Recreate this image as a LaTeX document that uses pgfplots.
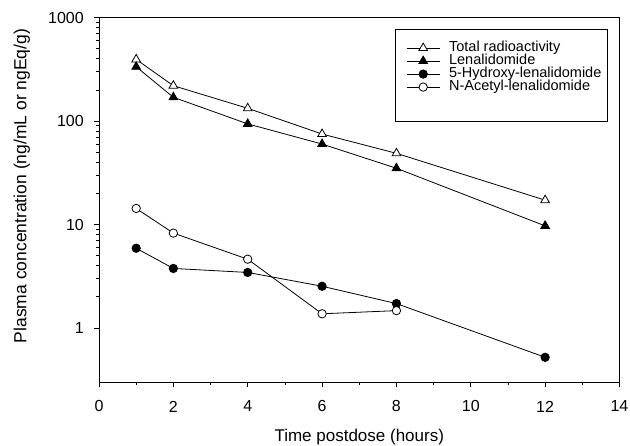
\documentclass[border=0pt]{standalone}
\usepackage{fontspec}
\setmainfont{Liberation Sans}
\usepackage{pgfplots}
\pgfplotsset{compat=1.18}

\begin{document}
\begin{tikzpicture}
    % fix the page to the reference's 630x446 frame (1px = 1pt)
    \useasboundingbox (-99pt,-64pt) rectangle (531pt,382pt);
    \begin{axis}[
        scale only axis,
        width=520.5pt, height=364.3pt,
        xmin=0, xmax=14,
        ymode=log, ymin=0.3, ymax=1000,
        xtick={0,2,...,14},
        minor x tick num=1,
        ytick={1,10,100,1000},
        log ticks with fixed point,
        /pgf/number format/1000 sep={},
        tick align=outside,
        xtick pos=bottom, ytick pos=left,
        major tick length=5pt, minor tick length=3pt,
        axis line style={line width=0.8pt},
        every tick/.style={black, line width=0.7pt},
        tick label style={font=\fontsize{16}{16}\selectfont},
        /pgf/number format/assume math mode=true,
        xticklabel style={anchor=center, yshift=-19.5pt},
        yticklabel style={anchor=east, inner sep=0pt, xshift=-10pt},
        xlabel={Time postdose (hours)},
        ylabel={Plasma concentration (ng/mL or ngEq/g)},
        every axis x label/.style={at={(axis description cs:0.5,0)}, yshift=-55.5pt, anchor=center,
            inner sep=0pt, font=\fontsize{17}{17}\selectfont},
        every axis y label/.style={at={(axis description cs:-0.148,0.538)}, rotate=90, anchor=center,
            inner sep=0pt, font=\fontsize{17.5}{17.5}\selectfont},
        every axis plot/.append style={black, line width=0.8pt},
        legend image code/.code={\draw[mark repeat=2,mark phase=2,#1] plot coordinates {(0pt,0pt) (16.5pt,0pt) (33pt,0pt)};},
        legend cell align=left,
        legend style={at={(axis description cs:0.590,0.935)}, anchor=north west,
            draw=none, fill=none, inner sep=0pt, row sep=0pt, column sep=9pt,
            font=\fontsize{14.5}{14.5}\selectfont,
            nodes={inner sep=0pt, text height=10pt, text depth=3pt}},
    ]
        \addplot[mark=triangle*, mark size=5pt, mark options={fill=white, solid}]
            coordinates {(1,395) (2,220) (4,133) (6,75) (8,48.8) (12,17.2)};
        \addplot[mark=triangle*, mark size=5pt, mark options={fill=black, solid}]
            coordinates {(1,335) (2,170) (4,94) (6,60) (8,35) (12,9.7)};
        \addplot[mark=*, mark size=4.2pt, mark options={fill=black, solid}]
            coordinates {(1,5.9) (2,3.76) (4,3.44) (6,2.53) (8,1.72) (12,0.52)};
        \addplot[mark=*, mark size=4.2pt, mark options={fill=white, solid}]
            coordinates {(1,14.3) (2,8.26) (4,4.62) (6,1.37) (8,1.47)};
        \legend{Total radioactivity, Lenalidomide, 5-Hydroxy-lenalidomide, N-Acetyl-lenalidomide}
        % legend frame, larger than the entries as in the reference
        \draw[line width=0.8pt] (axis description cs:0.569,0.716) rectangle (axis description cs:0.977,0.968);
    \end{axis}
\end{tikzpicture}
\end{document}
